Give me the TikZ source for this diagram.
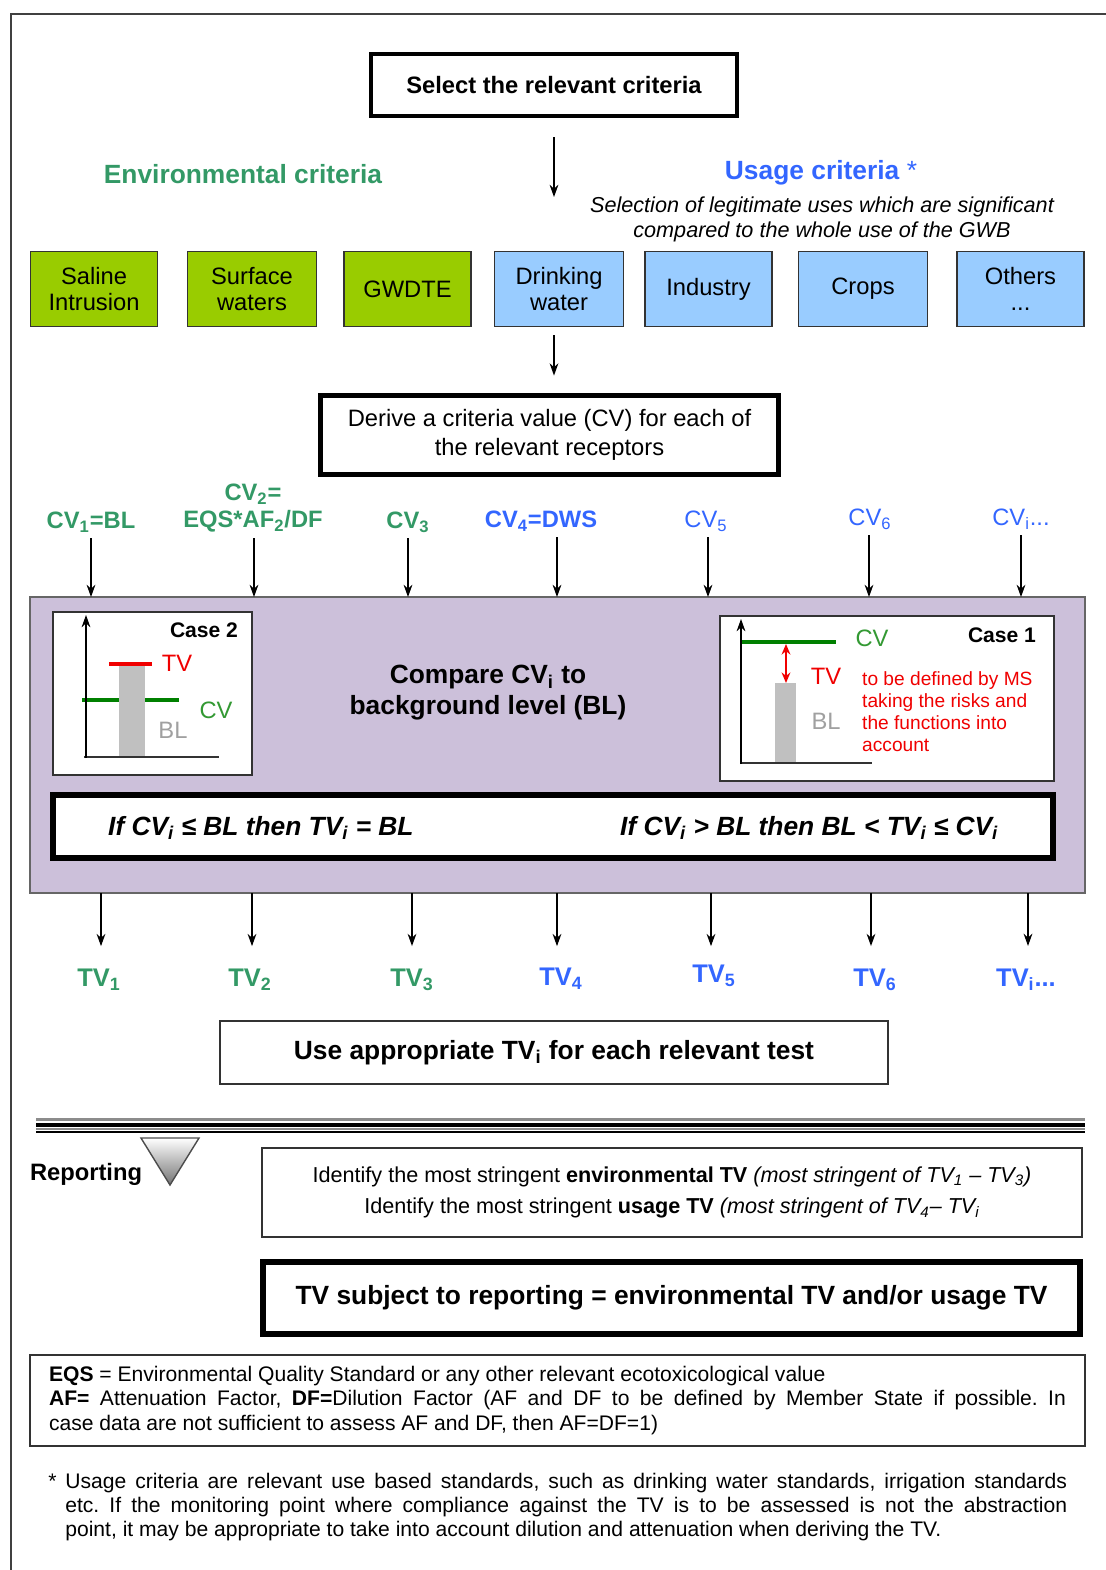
\documentclass[tikz,border=0pt]{standalone}
\usepackage{fontspec}
\setmainfont{Liberation Sans}
\usetikzlibrary{arrows.meta}
\frenchspacing

\definecolor{envgreen}{RGB}{51,153,102}
\definecolor{useblue}{RGB}{51,102,255}
\definecolor{envfill}{RGB}{153,204,0}
\definecolor{usefill}{RGB}{153,204,255}
\definecolor{cmpfill}{RGB}{204,192,218}
\definecolor{barfill}{RGB}{192,192,192}
\definecolor{cvline}{RGB}{0,128,0}
\definecolor{cvtext}{RGB}{51,153,51}
\definecolor{bltext}{RGB}{160,160,160}
\definecolor{tvred}{RGB}{240,0,0}

\tikzstyle{thickbox} = [
    rectangle,
    draw=black,
    fill=white,
    align=center,
]
\tikzstyle{thinbox} = [
    rectangle,
    draw=black!80,
    line width=0.8pt,
    fill=white,
    align=center,
]
\tikzstyle{envbox} = [
    rectangle,
    draw=black!80,
    line width=0.8pt,
    fill=envfill,
    minimum width=2.54cm,
    minimum height=1.5cm,
    align=center,
    font=\fontsize{13.5}{14.7}\selectfont,
]
\tikzstyle{usebox} = [envbox, fill=usefill]
\tikzstyle{envlabel} = [
    text=envgreen,
    align=center,
    font=\bfseries\fontsize{13.5}{15.3}\selectfont,
]
\tikzstyle{uselabel} = [
    text=useblue,
    align=center,
    font=\fontsize{13.5}{15.3}\selectfont,
]
\tikzstyle{tvlabel} = [
    font=\bfseries\fontsize{14.5}{17}\selectfont,
]
\tikzstyle{caselabel} = [
    font=\fontsize{13.5}{16}\selectfont,
]
\tikzstyle{arrow} = [
    line width=0.7pt,
    ->,
    >={Stealth[length=7pt,width=5pt]}
]

\begin{document}
\begin{tikzpicture}[x=0.02cm, y=-0.02cm]
        \useasboundingbox (0,0) rectangle (1106,1570);
        %% frame
        \draw [black!75, line width=1pt] (1106,14) -- (11,14) -- (11,1570);

        \node (sel) [thickbox, line width=2.3pt, minimum width=7.32cm, minimum height=1.24cm, font=\bfseries\fontsize{13.5}{16}\selectfont] at (554,85) {Select the relevant criteria};
        \coordinate (split) at (554,197);
        \draw [arrow, shorten <=0.38cm] (sel.south) -- (split);

        \node (envcrit) [envlabel, font=\bfseries\fontsize{15}{18}\selectfont] at (243,174) {Environmental criteria};
        \node (usecrit) [uselabel, font=\bfseries\fontsize{15}{18}\selectfont] at (821,173) {Usage criteria \textmd{*}};
        \node (usesub) [align=center, font=\itshape\fontsize{12.3}{14.2}\selectfont] at (822,219) {Selection of legitimate uses which are significant\\compared to the whole use of the GWB};

        %% receptors
        \node (sal) [envbox] at (94,289) {Saline\\Intrusion};
        \node (sur) [envbox, minimum width=2.58cm] at (252,289) {Surface\\waters};
        \node (gwd) [envbox] at (407.5,289) {GWDTE};
        \node (dri) [usebox, minimum width=2.58cm] at (559,289) {Drinking\\water};
        \node (ind) [usebox] at (708.5,289) {Industry};
        \node (cro) [usebox, minimum width=2.58cm] at (863,289) {Crops};
        \node (oth) [usebox] at (1020.5,289) {Others\\...};

        \node (der) [thickbox, line width=2.8pt, minimum width=9.16cm, minimum height=1.58cm, font=\fontsize{13.5}{16.4}\selectfont] at (549.5,435) {Derive a criteria value (CV) for each of\\the relevant receptors};
        \draw [arrow, shorten <=0.16cm, shorten >=0.35cm] (dri.south -| sel.south) -- (der.north -| sel.south);

        %% criteria values
        \node (cv1) [envlabel] at (91,522) {CV\textsubscript{1}=BL};
        \node (cv2) [envlabel] at (253,508) {CV\textsubscript{2}=\\EQS*AF\textsubscript{2}/DF};
        \node (cv3) [envlabel] at (408,522) {CV\textsubscript{3}};
        \node (cv4) [uselabel, font=\bfseries\fontsize{13.5}{15.3}\selectfont] at (541,521) {CV\textsubscript{4}=DWS};
        \node (cv5) [uselabel] at (706,521) {CV\textsubscript{5}};
        \node (cv6) [uselabel] at (870,519) {CV\textsubscript{6}};
        \node (cvi) [uselabel] at (1021,519) {CV\textsubscript{i}...};

        \node (cmp) [rectangle, draw=black!60, line width=0.8pt, fill=cmpfill, minimum width=21.1cm, minimum height=5.92cm] at (557.5,745) {};
        \coordinate (in1) at (91,597);
        \coordinate (in2) at (254,597);
        \coordinate (in3) at (408,597);
        \coordinate (in4) at (557,597);
        \coordinate (in5) at (708,597);
        \coordinate (in6) at (869,597);
        \coordinate (in7) at (1021,597);
        \draw [arrow] (cv1.south -| in1) -- (in1);
        \draw [arrow] (cv2.south -| in2) -- (in2);
        \draw [arrow] (cv3.south -| in3) -- (in3);
        \draw [arrow] (cv4.south -| in4) -- (in4);
        \draw [arrow] (cv5.south -| in5) -- (in5);
        \draw [arrow] (cv6.south -| in6) -- (in6);
        \draw [arrow] (cvi.south -| in7) -- (in7);

        \node (cmptxt) [align=center, font=\bfseries\fontsize{15}{17.6}\selectfont] at (488,693) {Compare CV\textsubscript{i} to\\background level (BL)};

        %% case 2
        \node (case2) [thinbox, minimum width=3.98cm, minimum height=3.26cm] at (152.5,693.5) {};
        \draw [cvline, line width=1.8pt] (82,700) -- (179,700);
        \fill [barfill] (119,666) rectangle (145,757);
        \draw [tvred, line width=2.2pt] (109,664) -- (152,664);
        \draw [black!80, line width=0.6pt] (84,757) -- (219,757);
        \draw [arrow] (86,758) -- (86,615);
        \node (c2lbl) [font=\bfseries\fontsize{12}{14}\selectfont] at (204,630) {Case 2};
        \node (c2tv) [caselabel, text=tvred] at (177,663) {TV};
        \node (c2cv) [caselabel, text=cvtext] at (216,710) {CV};
        \node (c2bl) [caselabel, text=bltext] at (173,730) {BL};

        %% case 1
        \node (case1) [thinbox, minimum width=6.68cm, minimum height=3.3cm] at (887,698.5) {};
        \draw [cvline, line width=1.8pt] (741,642) -- (836,642);
        \fill [barfill] (775,683) rectangle (796,763);
        \draw [black!80, line width=0.6pt] (741,763) -- (872,763);
        \draw [arrow] (741,764) -- (741,619);
        \draw [tvred, line width=1.2pt, {Stealth[length=6pt,width=5pt]}-{Stealth[length=6pt,width=5pt]}] (786,644) -- (786,683);
        \node (c1lbl) [font=\bfseries\fontsize{12}{14}\selectfont] at (1002,635) {Case 1};
        \node (c1cv) [caselabel, text=cvtext] at (872,638) {CV};
        \node (c1tv) [caselabel, text=tvred] at (826,676) {TV};
        \node (c1bl) [caselabel, text=bltext] at (826,721) {BL};
        \node (c1note) [anchor=west, align=left, text=tvred, font=\fontsize{10.9}{12.6}\selectfont] at (856,711.5) {to be defined by MS\\taking the risks and\\the functions into\\account};

        \node (cond) [thickbox, line width=3.4pt, minimum width=20cm, minimum height=1.26cm] at (553,826.5) {};
        \node (condl) [anchor=west, font=\bfseries\itshape\fontsize{15}{18}\selectfont] at (102,828) {If CV\textsubscript{i} ≤ BL then TV\textsubscript{i} = BL};
        \node (condr) [anchor=west, font=\bfseries\itshape\fontsize{15}{18}\selectfont] at (614,828) {If CV\textsubscript{i} > BL then BL < TV\textsubscript{i} ≤ CV\textsubscript{i}};

        %% threshold values
        \node (tv1) [tvlabel, text=envgreen] at (99,980) {TV\textsubscript{1}};
        \node (tv2) [tvlabel, text=envgreen] at (250,980) {TV\textsubscript{2}};
        \node (tv3) [tvlabel, text=envgreen] at (412,980) {TV\textsubscript{3}};
        \node (tv4) [tvlabel, text=useblue] at (561,979) {TV\textsubscript{4}};
        \node (tv5) [tvlabel, text=useblue] at (714,976) {TV\textsubscript{5}};
        \node (tv6) [tvlabel, text=useblue] at (875,980) {TV\textsubscript{6}};
        \node (tvi) [tvlabel, text=useblue] at (1026,980) {TV\textsubscript{i}...};
        \coordinate (out1) at (101,893);
        \coordinate (out2) at (252,893);
        \coordinate (out3) at (412,893);
        \coordinate (out4) at (557,893);
        \coordinate (out5) at (711,893);
        \coordinate (out6) at (871,893);
        \coordinate (out7) at (1028,893);
        \draw [arrow, shorten >=0.34cm] (out1) -- (out1 |- tv1.north);
        \draw [arrow, shorten >=0.34cm] (out2) -- (out2 |- tv2.north);
        \draw [arrow, shorten >=0.34cm] (out3) -- (out3 |- tv3.north);
        \draw [arrow, shorten >=0.34cm] (out4) -- (out4 |- tv1.north);
        \draw [arrow, shorten >=0.34cm] (out5) -- (out5 |- tv1.north);
        \draw [arrow, shorten >=0.34cm] (out6) -- (out6 |- tv6.north);
        \draw [arrow, shorten >=0.34cm] (out7) -- (out7 |- tvi.north);

        \node (use) [thinbox, minimum width=13.36cm, minimum height=1.26cm, font=\bfseries\fontsize{15}{18}\selectfont] at (554,1052.5) {Use appropriate TV\textsubscript{i} for each relevant test};

        %% reporting
        \draw [black!45, line width=1.2pt] (36,1119.5) -- (1085,1119.5);
        \draw [black, line width=2pt] (36,1125) -- (1085,1125);
        \draw [black!45, line width=1pt] (36,1129) -- (1085,1129);
        \draw [black, line width=0.8pt] (36,1132) -- (1085,1132);
        \node (rep) [font=\bfseries\fontsize{13.5}{16}\selectfont] at (86,1174) {Reporting};
        \shadedraw [top color=white, bottom color=black!55, draw=black!70, line width=0.8pt] (141,1138) -- (199,1138) -- (170,1185) -- cycle;

        \node (ident) [thinbox, minimum width=16.4cm, minimum height=1.78cm, font=\fontsize{12.3}{18.1}\selectfont] at (672,1192.5) {Identify the most stringent \textbf{environmental TV} \textit{(most stringent of TV\textsubscript{1} – TV\textsubscript{3})}\\Identify the most stringent \textbf{usage TV} \textit{(most stringent of TV\textsubscript{4}– TV\textsubscript{i}}};
        \node (rpt) [thickbox, line width=3.4pt, minimum width=16.34cm, minimum height=1.44cm, font=\bfseries\fontsize{15}{18}\selectfont] at (671.5,1298) {TV subject to reporting = environmental TV and/or usage TV};

        \node (eqs) [thinbox, align=justify, text width=20.34cm, inner xsep=0.38cm, minimum height=1.82cm, font=\fontsize{12}{14.2}\selectfont] at (557.5,1400.5) {\textbf{EQS} = Environmental Quality Standard or any other relevant ecotoxicological value\\\textbf{AF=} Attenuation Factor, \textbf{DF=}Dilution Factor (AF and DF to be defined by Member State if possible. In\linebreak case data are not sufficient to assess AF and DF, then AF=DF=1)};

        \node (fnote) [anchor=west, align=justify, text width=20.04cm, inner sep=0pt, font=\fontsize{12}{13.6}\selectfont] at (65,1507) {\noindent\llap{*\hspace{5pt}}Usage criteria are relevant use based standards, such as drinking water standards, irrigation standards\linebreak etc. If the monitoring point where compliance against the TV is to be assessed is not the abstraction\linebreak point, it may be appropriate to take into account dilution and attenuation when deriving the TV.};
    \end{tikzpicture}
\end{document}
